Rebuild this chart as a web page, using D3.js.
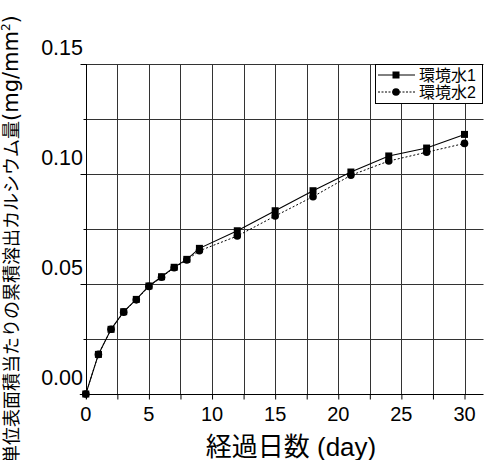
<!DOCTYPE html>
<html><head><meta charset="utf-8">
<script src="https://cdn.jsdelivr.net/npm/d3@7"></script>
<style>body{margin:0;background:#fff}svg{display:block}</style>
</head><body>
<svg id="c" width="485" height="460"></svg>
<script>
const days = [0,1,2,3,4,5,6,7,8,9,12,15,18,21,24,27,30];
const water1 = [0,0.0180,0.0294,0.0374,0.0430,0.0491,0.0533,0.0576,0.0612,0.0662,0.0742,0.0833,0.0924,0.1009,0.1082,0.1118,0.1180];
const water2 = [0,0.0180,0.0294,0.0372,0.0428,0.0489,0.0531,0.0574,0.0609,0.0651,0.0718,0.0809,0.0897,0.0994,0.1059,0.1099,0.1139];
const seriesNames = ["環境水1","環境水2"];
const xTicks = [0,5,10,15,20,25,30];
const yTicks = [0,0.05,0.10,0.15];
const xTitle = "経過日数 (day)";
const yTitle = "単位表面積当たりの累積溶出カルシウム量";

const FONT = "'Liberation Sans', Arial, 'Noto Sans CJK JP', sans-serif";
const svg = d3.select("#c");
const L = 85.8, R = 483.5, T = 64, B = 394;
const x = d3.scaleLinear().domain([0,30]).range([L, 464.5]);
const y = d3.scaleLinear().domain([0,0.15]).range([B, T]);
const gridCol = "#333";

// grid
const g = svg.append("g");
d3.range(2.5, 30.01, 2.5).forEach(d => {
  g.append("line").attr("x1", Math.round(x(d))+0.5).attr("x2", Math.round(x(d))+0.5)
    .attr("y1", T).attr("y2", B).attr("stroke", gridCol).attr("stroke-width",1);
});
d3.range(0.025, 0.1501, 0.025).forEach(d => {
  g.append("line").attr("x1", L).attr("x2", R).attr("y1", Math.round(y(d))+0.5).attr("y2", Math.round(y(d))+0.5)
    .attr("stroke", gridCol).attr("stroke-width",1);
});
// axes
const xAxis = d3.axisBottom(x).tickValues(d3.range(0,30.01,2.5)).tickSize(5).tickFormat("");
svg.append("g").attr("transform",`translate(0,${Math.round(B)+0.5})`).call(xAxis)
  .call(s=>s.select(".domain").remove())
  .call(s=>s.selectAll("line").attr("stroke","#000"));
svg.append("line").attr("x1", L-6).attr("x2", R).attr("y1", B+0.5).attr("y2", B+0.5).attr("stroke","#000");
const yAxis = d3.axisLeft(y).tickValues(d3.range(0,0.1501,0.025)).tickSize(3).tickFormat("");
svg.append("g").attr("transform",`translate(${Math.round(L)+0.5},0)`).call(yAxis)
  .call(s=>s.select(".domain").remove())
  .call(s=>s.selectAll("line").attr("stroke","#000").attr("x2", d => (Math.round(d*1000)%50===0) ? -6 : -3));
svg.append("line").attr("x1", Math.round(L)+0.5).attr("x2", Math.round(L)+0.5).attr("y1", T).attr("y2", B+5).attr("stroke","#000");

// tick labels
svg.append("g").selectAll("text").data(xTicks).join("text")
  .attr("x", d=>x(d)).attr("y", 421).attr("text-anchor","middle")
  .attr("font-family", FONT).attr("font-size", 20).text(d=>d);
svg.append("g").selectAll("text").data(yTicks).join("text")
  .attr("x", 83).attr("y", d=>y(d)-9).attr("text-anchor","end")
  .attr("font-family", FONT).attr("font-size", 21.5).text(d=>d3.format(".2f")(d));

// series
const line = d3.line().x((d,i)=>x(days[i])).y(d=>y(d));
svg.append("path").datum(water1).attr("d", line).attr("fill","none").attr("stroke","#000").attr("stroke-width",1.1);
svg.append("path").datum(water2).attr("d", line).attr("fill","none").attr("stroke","#000").attr("stroke-width",1).attr("stroke-dasharray","2,2");
svg.append("g").selectAll("rect").data(water1).join("rect")
  .attr("x",(d,i)=>x(days[i])-3.5).attr("y",d=>y(d)-3.5).attr("width",7).attr("height",7).attr("fill","#000");
svg.append("g").selectAll("circle").data(water2).join("circle")
  .attr("cx",(d,i)=>x(days[i])).attr("cy",d=>y(d)).attr("r",3.8).attr("fill","#000");

// legend
const lg = svg.append("g");
lg.append("rect").attr("x",375.5).attr("y",64.5).attr("width",107).attr("height",39).attr("fill","#fff").attr("stroke","#000");
const rows = [75, 92];
rows.forEach((ry,i)=>{
  lg.append("line").attr("x1",378).attr("x2",415).attr("y1",ry).attr("y2",ry).attr("stroke","#000")
    .attr("stroke-dasharray", i===1 ? "2,1.5" : null);
  if (i===0) lg.append("rect").attr("x",392.5).attr("y",ry-3.5).attr("width",7).attr("height",7).attr("fill","#000");
  else lg.append("circle").attr("cx",396).attr("cy",ry).attr("r",3.8).attr("fill","#000");
  lg.append("text").attr("x",419).attr("y",ry).attr("dy","0.36em").attr("font-family",FONT).attr("font-size",16).text(seriesNames[i]);
});

// titles
svg.append("text").attr("x",291).attr("y",456).attr("text-anchor","middle").attr("font-family",FONT).attr("font-size",26).text(xTitle);
const LATIN = "'DejaVu Sans', sans-serif";
const yt = svg.append("text").attr("transform","translate(18,463) rotate(-90)").attr("font-family",FONT).attr("font-size",18);
yt.append("tspan").text(yTitle);
yt.append("tspan").attr("font-family",LATIN).attr("font-size",21).text("(mg/mm");
yt.append("tspan").attr("font-family",LATIN).attr("font-size",12).attr("dy",-8).text("2");
yt.append("tspan").attr("font-family",LATIN).attr("font-size",21).attr("dy",8).text(")");
</script>
</body></html>
